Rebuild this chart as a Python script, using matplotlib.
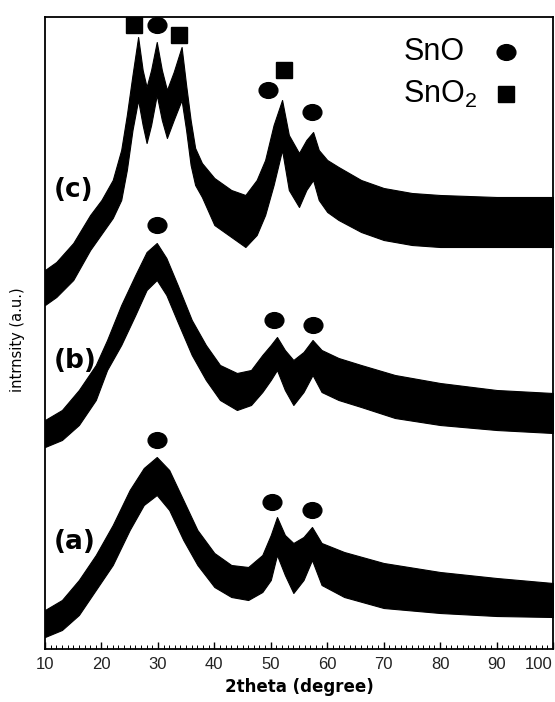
import matplotlib
matplotlib.use("Agg")
import matplotlib.pyplot as plt
from matplotlib.markers import MarkerStyle
from matplotlib.path import Path
from matplotlib.transforms import Affine2D
from matplotlib.ticker import MultipleLocator
import numpy as np

plt.rcParams['mathtext.fontset'] = 'custom'
plt.rcParams['mathtext.rm'] = 'Liberation Sans'

# ---- data (intensity in arbitrary units) ----
tt_c = [10, 12, 15, 18, 20, 22, 23.5, 24.5, 25.5, 26.5, 27.3, 28.0, 28.8, 29.8, 30.7, 31.6,
        32.8, 34.2, 35.0, 35.8, 36.6, 37.8, 40, 43, 45.5, 47.5, 49, 50.5, 52.0, 53.2, 55.0,
        56.3, 57.5, 58.5, 60, 62, 66, 70, 75, 80, 90, 100]
c_top = [379, 387, 406, 434, 449, 469, 499, 534, 574, 612, 579, 562, 579, 607, 579, 559,
         577, 602, 564, 529, 501, 486, 471, 459, 454, 469, 489, 524, 549, 514, 496,
         509, 517, 499, 489, 482, 469, 461, 456, 454, 452, 452]
c_bot = [344, 352, 369, 399, 415, 431, 449, 479, 519, 549, 524, 506, 524, 554, 529, 511,
         529, 549, 519, 484, 464, 452, 424, 412, 402, 414, 434, 464, 499, 459, 442,
         459, 469, 449, 437, 429, 417, 409, 404, 402, 402, 402]

tt_b = [10, 13, 16, 19, 21, 23.5, 26, 28, 29.8, 31.5, 33.5, 36, 38.5, 41, 44, 46.5, 48.5,
        50, 51.1, 52.5, 54, 55.8, 57.4, 59, 62, 66, 72, 80, 90, 100]
b_top = [229, 239, 259, 284, 309, 344, 374, 397, 406, 391, 364, 329, 304, 284, 276, 279, 294,
         304, 312, 299, 289, 297, 309, 299, 291, 284, 274, 266, 259, 256]
b_bot = [202, 209, 224, 249, 279, 304, 334, 359, 369, 354, 327, 294, 269, 249, 239, 244, 257,
         269, 279, 259, 244, 257, 274, 257, 249, 242, 231, 224, 219, 216]

tt_a = [10, 13, 16, 19, 22, 25, 27.5, 29.8, 32, 34.5, 37, 40, 43, 46, 48.5, 50, 51.1, 52.5,
        54, 55.8, 57.3, 59, 63, 70, 80, 90, 100]
a_top = [39, 49, 69, 94, 124, 159, 181, 192, 179, 149, 119, 96, 84, 82, 94, 114, 132, 114,
         106, 112, 122, 106, 97, 86, 77, 71, 66]
a_bot = [12, 19, 34, 59, 84, 119, 144, 154, 139, 109, 84, 62, 52, 49, 57, 69, 94, 74,
         56, 69, 89, 64, 52, 41, 36, 33, 32]

sno_x = [29.8, 49.5, 57.3, 29.8, 50.5, 57.5, 29.8, 50.3, 57.3]
sno_y = [624, 559, 537, 424, 329, 324, 209, 147, 139]
sno2_x = [25.8, 33.7, 52.3]
sno2_y = [624, 614, 579]

curve_labels = ["(c)", "(b)", "(a)"]
curve_label_y = [459, 288, 107]

xticks = [10, 20, 30, 40, 50, 60, 70, 80, 90, 100]

# ---- figure ----
fig = plt.figure(figsize=(5.55, 7.02), dpi=100)
ax = fig.add_axes([45/555, (702-649)/702, (553-45)/555, 632/702])

for tt, top, bot in [(tt_c, c_top, c_bot), (tt_b, b_top, b_bot), (tt_a, a_top, a_bot)]:
    ax.fill_between(tt, bot, top, color='black', linewidth=0.8, edgecolor='black')

ell = Path.unit_circle().transformed(Affine2D().scale(1.0, 0.84))
ell_marker = MarkerStyle(ell)
ax.plot(sno_x, sno_y, linestyle='none', marker=ell_marker, markersize=13.5, color='black')
ax.plot(sno2_x, sno2_y, linestyle='none', marker='s', markersize=11.5, color='black')

for lab, y in zip(curve_labels, curve_label_y):
    ax.text(11.6, y, lab, ha='left', va='center', fontsize=19, fontweight='bold',
            family='DejaVu Sans')

# legend as text + markers
ax.text(73.6, 597, "SnO", ha='left', va='center', fontsize=22, family='Liberation Sans')
ax.text(73.4, 555, r"SnO$_{\mathrm{2}}$", ha='left', va='center', fontsize=22,
        family='Liberation Sans')
ax.plot([91.7], [597], linestyle='none', marker=ell_marker, markersize=13.5, color='black')
ax.plot([91.7], [555], linestyle='none', marker='s', markersize=11.5, color='black')

ax.set_xlim(10, 100)
ax.set_ylim(0, 632)
ax.set_yticks([])
ax.xaxis.set_major_locator(MultipleLocator(10))
ax.xaxis.set_minor_locator(MultipleLocator(1))
ax.set_xticks(xticks)
ax.set_xticklabels([str(t) for t in xticks], family='Liberation Sans', fontsize=12,
                   color='#222222')
ax.get_xticklabels()[-1].set_horizontalalignment('right')
ax.tick_params(axis='x', which='major', direction='in', length=5, width=1, pad=6)
ax.tick_params(axis='x', which='minor', direction='in', length=3, width=0.7)
for s in ax.spines.values():
    s.set_linewidth(1.3)

ax.set_xlabel("2theta (degree)", fontsize=12, fontweight='bold', family='DejaVu Sans',
              labelpad=4)
ax.set_ylabel("intrnsity (a.u.)", fontsize=10.5, family='DejaVu Sans')
ax.yaxis.set_label_coords(-0.039, 0.49)

fig.savefig("out.png", dpi=100)
